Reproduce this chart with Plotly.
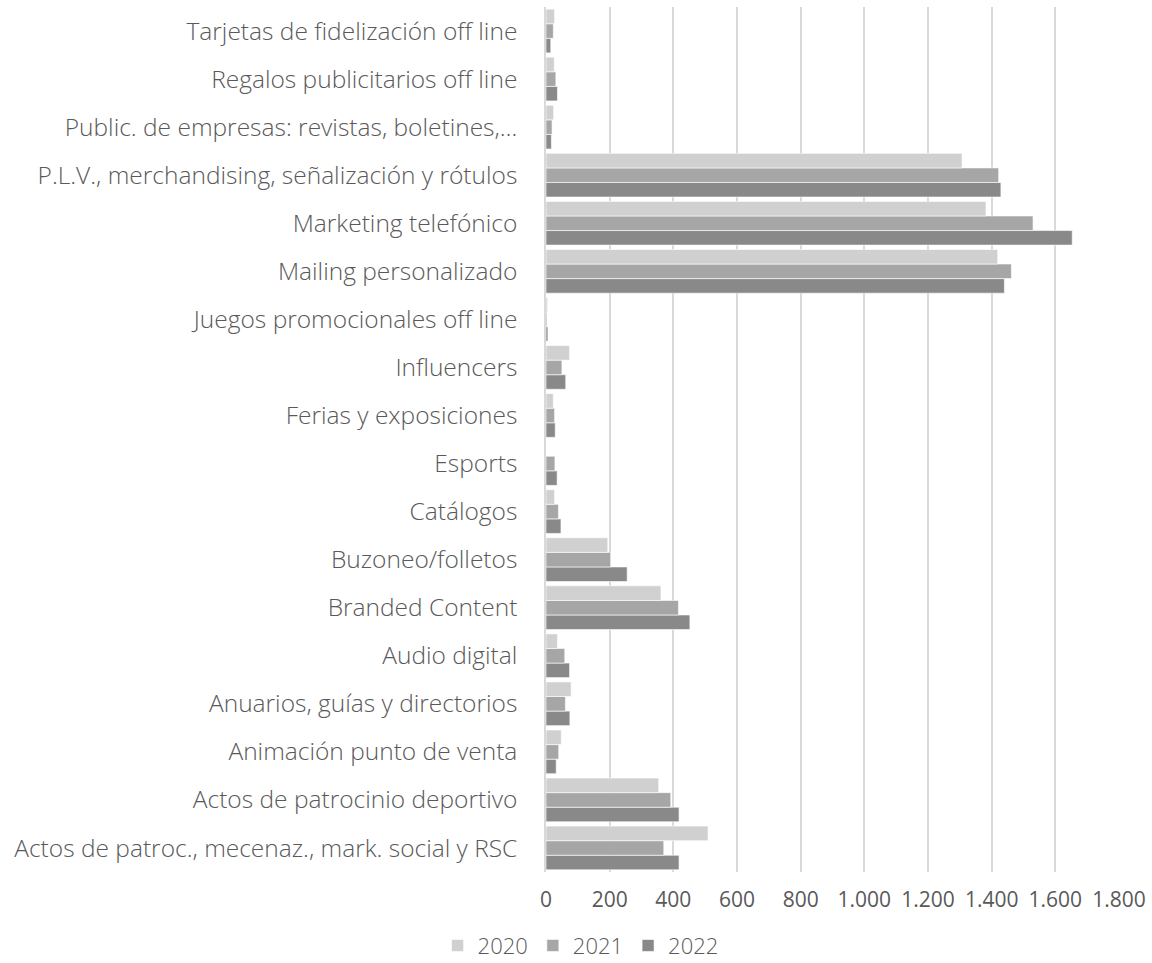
import plotly.graph_objects as go

# Categories, listed bottom to top as they appear on the y axis
categories = [
    "Actos de patroc., mecenaz., mark. social y RSC",
    "Actos de patrocinio deportivo",
    "Animación punto de venta",
    "Anuarios, guías y directorios",
    "Audio digital",
    "Branded Content",
    "Buzoneo/folletos",
    "Catálogos",
    "Esports",
    "Ferias y exposiciones",
    "Influencers",
    "Juegos promocionales off line",
    "Mailing personalizado",
    "Marketing telefónico",
    "P.L.V., merchandising, señalización y rótulos",
    "Public. de empresas: revistas, boletines,…",
    "Regalos publicitarios off line",
    "Tarjetas de fidelización off line",
]

values_2020 = [509, 354, 48, 79, 36, 361, 194, 27, 0, 23, 74, 5, 1419, 1382, 1307, 24, 26, 27]
values_2021 = [370, 392, 40, 61, 59, 416, 203, 39, 28, 27, 50, 3, 1462, 1530, 1422, 19, 31, 23]
values_2022 = [418, 418, 32, 75, 74, 452, 255, 47, 35, 29, 62, 6, 1440, 1653, 1429, 17, 36, 15]

x_ticks = [0, 200, 400, 600, 800, 1000, 1200, 1400, 1600, 1800]
x_tick_text = ["0", "200", "400", "600", "800", "1.000", "1.200", "1.400", "1.600", "1.800"]

series = [
    ("2022", values_2022, "#898989"),
    ("2021", values_2021, "#a6a6a6"),
    ("2020", values_2020, "#d0d0d0"),
]

text_color = "#595959"
grid_color = "#d9d9d9"
font_family = "Open Sans"

fig = go.Figure()
for name, vals, color in series:
    fig.add_trace(go.Bar(
        y=categories,
        x=vals,
        name=name,
        orientation="h",
        marker=dict(color=color, line=dict(color="rgba(255,255,255,0.6)", width=1)),
        hoverinfo="x+y+name",
    ))

fig.update_layout(
    width=1152,
    height=963,
    barmode="group",
    bargap=0.09,
    bargroupgap=0,
    plot_bgcolor="white",
    paper_bgcolor="white",
    margin=dict(l=546, r=33, t=7, b=91, autoexpand=False),
    font=dict(family=font_family, color=text_color),
    legend=dict(
        orientation="h",
        traceorder="reversed",
        x=0.504,
        xref="container",
        xanchor="center",
        y=0.018,
        yref="container",
        yanchor="middle",
        font=dict(size=22, color=text_color, family=font_family, weight=300),
        itemwidth=30,
        bgcolor="rgba(0,0,0,0)",
    ),
    showlegend=True,
)

fig.update_xaxes(
    range=[0, 1800],
    tickvals=x_ticks,
    ticktext=x_tick_text,
    showgrid=True,
    gridcolor=grid_color,
    gridwidth=1.5,
    zeroline=False,
    showline=False,
    ticks="",
    ticklabelstandoff=13,
    tickfont=dict(size=21, color=text_color, family=font_family),
    fixedrange=True,
)

fig.update_yaxes(
    type="category",
    categoryorder="array",
    categoryarray=categories,
    showgrid=False,
    showline=True,
    linecolor=grid_color,
    linewidth=1.5,
    ticks="",
    ticklabelstandoff=22,
    tickfont=dict(size=24.5, color=text_color, family=font_family, weight=300),
    fixedrange=True,
)

fig.write_html("out.html")
